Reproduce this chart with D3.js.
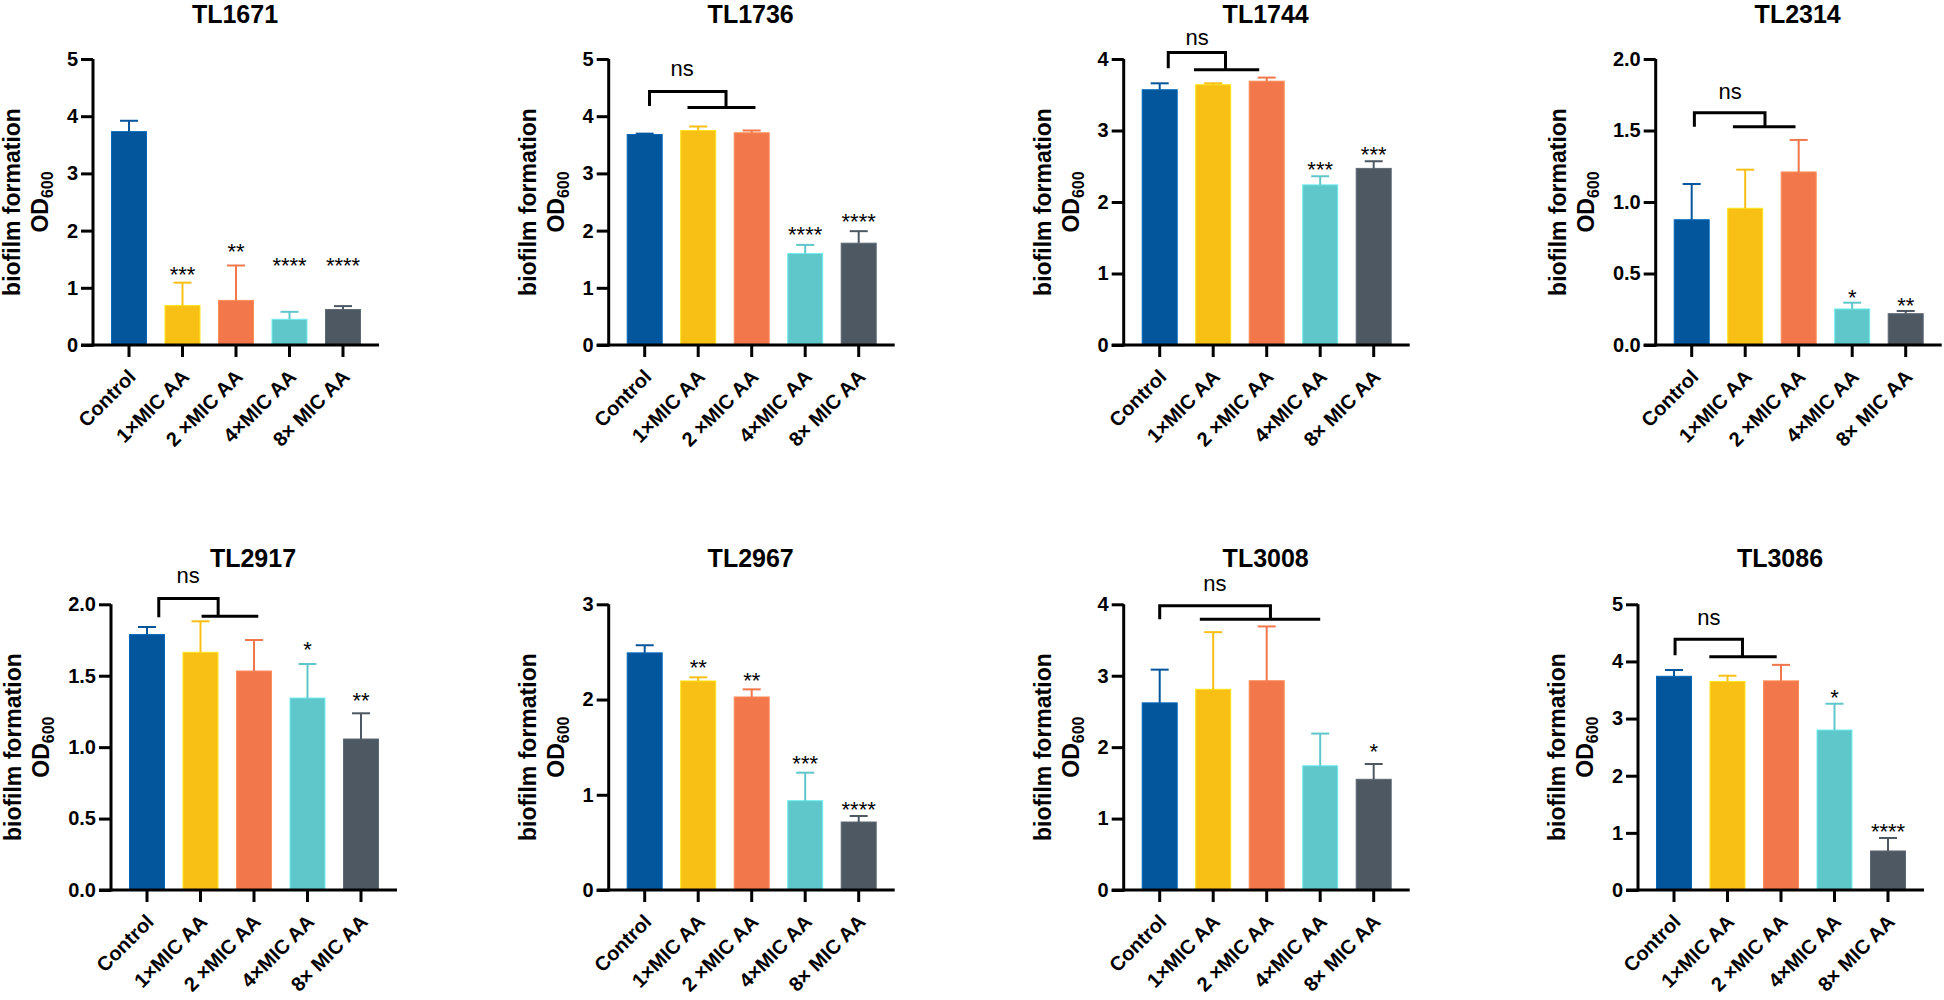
<!DOCTYPE html>
<html>
<head>
<meta charset="utf-8">
<script src="https://cdn.jsdelivr.net/npm/d3@7"></script>
<style>
  html, body { margin: 0; padding: 0; background: #fff; }
  svg { display: block; }
  text { font-family: "Liberation Sans", Arial, Helvetica, sans-serif; fill: #000; }
</style>
</head>
<body>
<svg id="chart" width="1944" height="1000"></svg>
<script>
// ---------------- DATA ----------------
const titles = ["TL1671", "TL1736", "TL1744", "TL2314", "TL2917", "TL2967", "TL3008", "TL3086"];
const categories = ["Control", "1×MIC AA", "2 ×MIC AA", "4×MIC AA", "8× MIC AA"];

// mean OD600 per panel (rows follow titles), per category
const means = [
  [3.73, 0.69, 0.78, 0.45, 0.62],
  [3.68, 3.75, 3.71, 1.60, 1.78],
  [3.57, 3.64, 3.69, 2.24, 2.47],
  [0.876, 0.956, 1.21, 0.252, 0.219],
  [1.788, 1.664, 1.533, 1.344, 1.057],
  [2.49, 2.195, 2.027, 0.938, 0.714],
  [2.62, 2.81, 2.93, 1.74, 1.55],
  [3.74, 3.65, 3.66, 2.80, 0.683]
];
// upper error (SD)
const sds = [
  [0.19, 0.40, 0.61, 0.13, 0.06],
  [0.015, 0.07, 0.04, 0.15, 0.21],
  [0.09, 0.02, 0.05, 0.12, 0.10],
  [0.25, 0.27, 0.224, 0.044, 0.019],
  [0.053, 0.217, 0.217, 0.238, 0.18],
  [0.08, 0.038, 0.08, 0.294, 0.063],
  [0.465, 0.80, 0.76, 0.45, 0.214],
  [0.11, 0.10, 0.28, 0.46, 0.227]
];
const yMaxes = [5, 5, 4, 2, 2, 3, 4, 5];
const tickSteps = [1, 1, 1, 0.5, 0.5, 1, 1, 1];

// significance labels and the value level where they are drawn
const sigLabels = [
  ["", "***", "**", "****", "****"],
  ["", "", "", "****", "****"],
  ["", "", "", "***", "***"],
  ["", "", "", "*", "**"],
  ["", "", "", "*", "**"],
  ["", "**", "**", "***", "****"],
  ["", "", "", "", "*"],
  ["", "", "", "*", "****"]
];
const sigLevels = [
  [null, 1.32, 1.73, 1.48, 1.47],
  [null, null, null, 2.02, 2.24],
  [null, null, null, 2.53, 2.73],
  [null, null, null, 0.37, 0.31],
  [null, null, null, 1.72, 1.36],
  [null, 2.39, 2.254, 1.376, 0.903],
  [null, null, null, null, 2.01],
  [null, null, null, 3.45, 1.11]
];
// "ns" brackets: [legIdx, dropIdx, lowIdx0, lowIdx1, yTop, yLegBottom, yLow, textIdx, textY]
const nsBrackets = [
  null,
  [0.09, 1.52, 0.80, 2.07, 4.43, 4.18, 4.15, 0.70, 4.70],
  [0.16, 1.23, 0.64, 1.86, 4.09, 3.87, 3.85, 0.70, 4.20],
  [0.05, 1.37, 0.77, 1.94, 1.625, 1.527, 1.527, 0.72, 1.72],
  [0.22, 1.33, 1.02, 2.08, 2.04, 1.91, 1.916, 0.77, 2.15],
  null,
  [0.00, 2.07, 0.75, 3.00, 3.98, 3.79, 3.79, 1.03, 4.19],
  [0.02, 1.28, 0.66, 1.92, 4.39, 4.11, 4.08, 0.65, 4.64]
];

// ---------------- STYLE / LAYOUT ----------------
const colors = ["#03569B", "#F8C015", "#F2774B", "#5FC7C9", "#4E5862"];
const axisXs = [93, 608.7, 1123.7, 1655.7, 111, 608.7, 1123.7, 1638];
const rowGeom = [
  { y0: 345, yTop: 59, titleY: 23 },
  { y0: 890, yTop: 604.3, titleY: 567 }
];
const STEP = 53.5;

const svg = d3.select("#chart");

titles.forEach((title, p) => {
  const row = rowGeom[Math.floor(p / 4)];
  const ax = axisXs[p];
  const g = svg.append("g");

  const y = d3.scaleLinear().domain([0, yMaxes[p]]).range([row.y0, row.yTop]);
  const x = d3.scaleBand().domain(categories)
    .range([ax + 9.25, ax + 9.25 + 5 * STEP])
    .paddingInner(0.3458).paddingOuter(0.1729);
  const xi = t => x(categories[0]) + x.bandwidth() / 2 + t * x.step();

  // title
  g.append("text")
    .attr("x", ax + 142).attr("y", row.titleY)
    .attr("text-anchor", "middle")
    .style("font-size", "25px").style("font-weight", "bold")
    .text(title);

  // bars
  const data = categories.map((c, i) => ({ c, i, m: means[p][i], sd: sds[p][i] }));
  g.selectAll("rect.bar").data(data).enter().append("rect")
    .attr("class", "bar")
    .attr("x", d => x(d.c))
    .attr("width", x.bandwidth())
    .attr("y", d => y(d.m))
    .attr("height", d => y(0) - y(d.m))
    .attr("fill", d => colors[d.i])
    .attr("stroke", d => d3.color(colors[d.i]).brighter(0.5))
    .attr("stroke-width", 1);

  // error bars (upper only)
  const eg = g.selectAll("g.err").data(data).enter().append("g")
    .attr("stroke", d => colors[d.i]).attr("stroke-width", 2);
  eg.append("line")
    .attr("x1", d => x(d.c) + x.bandwidth() / 2).attr("x2", d => x(d.c) + x.bandwidth() / 2)
    .attr("y1", d => y(d.m)).attr("y2", d => y(d.m + d.sd));
  eg.append("line")
    .attr("x1", d => x(d.c) + x.bandwidth() / 2 - 9).attr("x2", d => x(d.c) + x.bandwidth() / 2 + 9)
    .attr("y1", d => y(d.m + d.sd)).attr("y2", d => y(d.m + d.sd));

  // y axis
  const ticks = d3.range(0, yMaxes[p] + 1e-9, tickSteps[p]);
  const fmt = tickSteps[p] < 1 ? d3.format(".1f") : d3.format("d");
  const yAxisG = g.append("g").attr("transform", `translate(${ax},0)`)
    .call(d3.axisLeft(y).tickValues(ticks).tickFormat(fmt).tickSize(12).tickSizeOuter(0).tickPadding(3));
  yAxisG.select(".domain").attr("stroke", "#000").attr("stroke-width", 3)
    .attr("d", `M0,${row.y0 + 1.5}V${row.yTop}`);
  yAxisG.selectAll(".tick line").attr("stroke", "#000").attr("stroke-width", 3);
  yAxisG.selectAll(".tick text")
    .style("font-size", "20px").style("font-weight", "bold")
    .style("font-family", "'Liberation Sans', Arial, sans-serif")
    .attr("fill", "#000");

  // x axis
  const xAxisG = g.append("g").attr("transform", `translate(0,${row.y0})`)
    .call(d3.axisBottom(x).tickSize(12).tickSizeOuter(0).tickFormat(""));
  xAxisG.select(".domain").attr("stroke", "#000").attr("stroke-width", 3)
    .attr("d", `M${ax - 12},0H${ax + 286}`);
  xAxisG.selectAll(".tick line").attr("stroke", "#000").attr("stroke-width", 3);

  // rotated category labels
  g.selectAll("text.xl").data(categories).enter().append("text")
    .attr("class", "xl")
    .attr("text-anchor", "end")
    .attr("transform", d => `translate(${x(d) + x.bandwidth() / 2 + 8},${row.y0 + 33}) rotate(-45)`)
    .style("font-size", "20px").style("font-weight", "bold")
    .text(d => d);

  // y-axis title (two lines)
  let tickLeft = Infinity;
  yAxisG.selectAll(".tick text").each(function () {
    const b = this.getBBox();
    tickLeft = Math.min(tickLeft, ax + b.x);
  });
  const yc = (row.y0 + row.yTop) / 2;
  g.append("text")
    .attr("transform", `translate(${tickLeft - 47},${yc}) rotate(-90)`)
    .attr("text-anchor", "middle")
    .style("font-size", "23px").style("font-weight", "bold")
    .text("biofilm formation");
  const od = g.append("text")
    .attr("transform", `translate(${tickLeft - 19},${yc}) rotate(-90)`)
    .attr("text-anchor", "middle")
    .style("font-size", "23px").style("font-weight", "bold");
  od.append("tspan").text("OD");
  od.append("tspan").attr("dy", 5).style("font-size", "16px").text("600");

  // significance stars
  const sigData = data.filter(d => sigLabels[p][d.i] !== "");
  g.selectAll("text.sig").data(sigData).enter().append("text")
    .attr("class", "sig")
    .attr("x", d => x(d.c) + x.bandwidth() / 2)
    .attr("y", d => y(sigLevels[p][d.i]) + 12.5)
    .attr("text-anchor", "middle")
    .style("font-size", "22px")
    .text(d => sigLabels[p][d.i]);

  // ns bracket
  const br = nsBrackets[p];
  if (br) {
    const [legI, dropI, l0, l1, yT, yLB, yL, tI, tY] = br;
    const path = d3.path();
    path.moveTo(xi(legI), y(yLB));
    path.lineTo(xi(legI), y(yT));
    path.lineTo(xi(dropI), y(yT));
    path.lineTo(xi(dropI), y(yL));
    path.moveTo(xi(l0), y(yL));
    path.lineTo(xi(l1), y(yL));
    g.append("path").attr("d", path.toString())
      .attr("fill", "none").attr("stroke", "#000").attr("stroke-width", 3);
    g.append("text")
      .attr("x", xi(tI)).attr("y", y(tY))
      .attr("text-anchor", "middle")
      .style("font-size", "22px")
      .text("ns");
  }
});
</script>
</body>
</html>
